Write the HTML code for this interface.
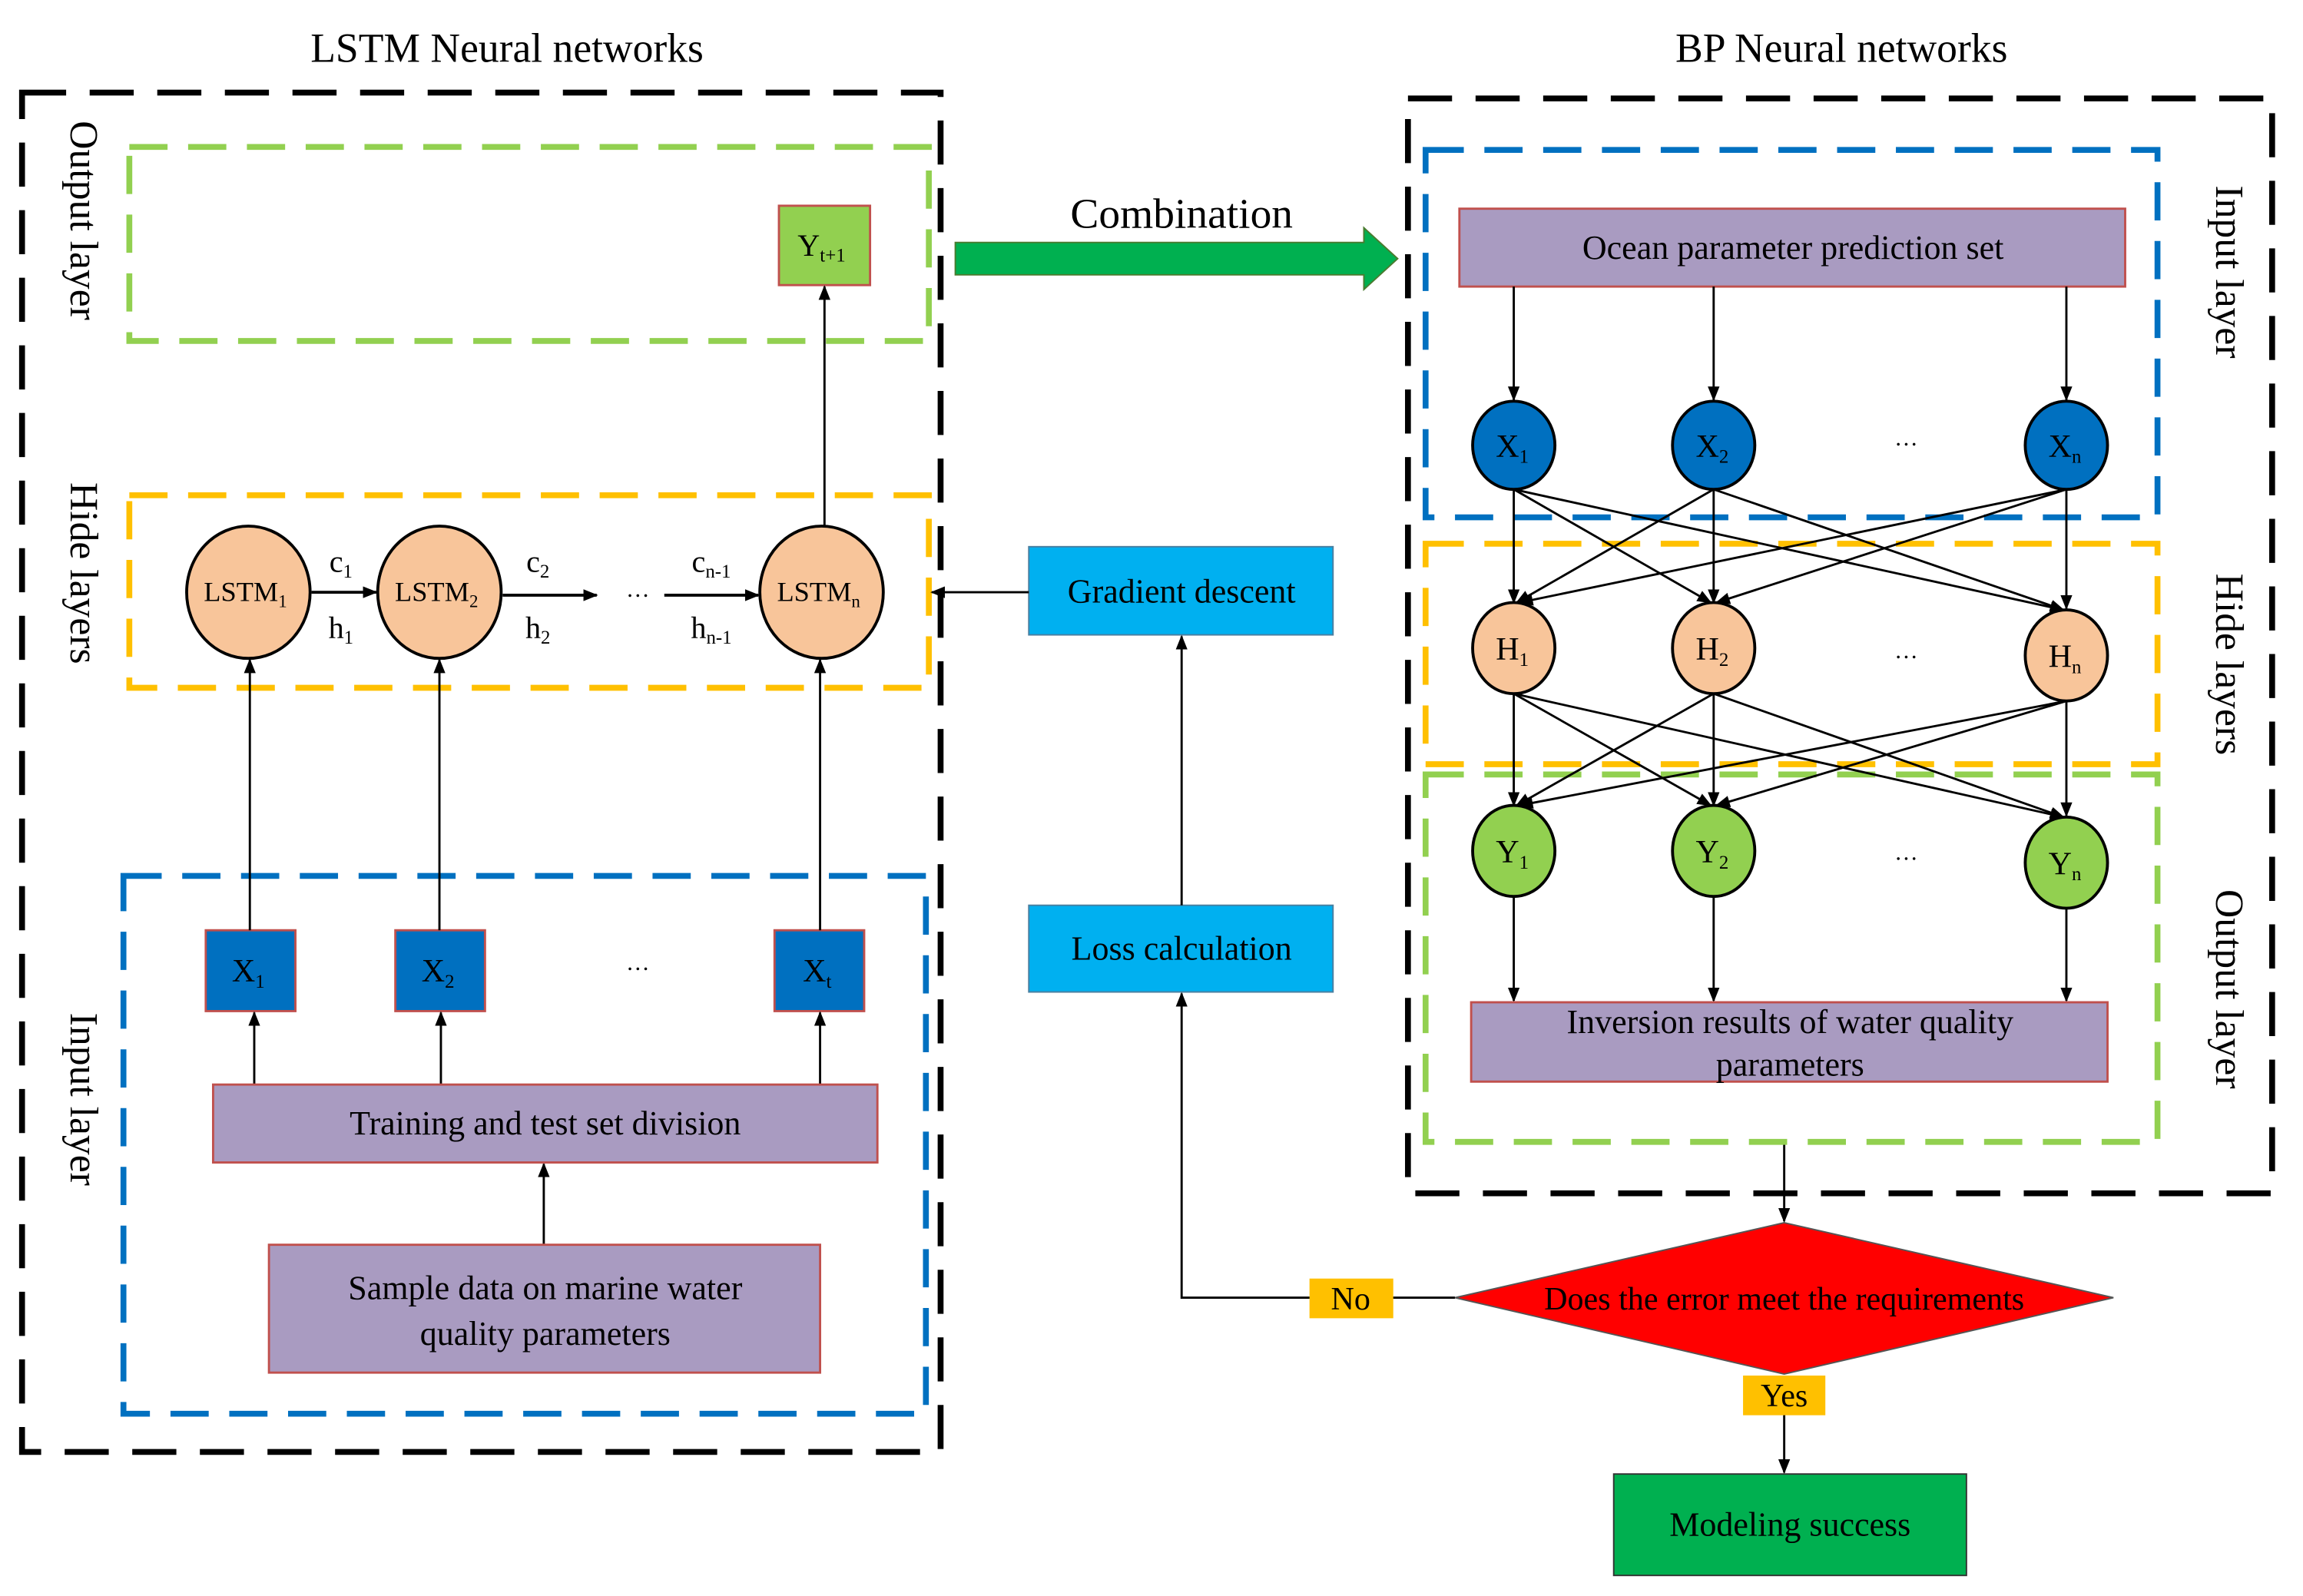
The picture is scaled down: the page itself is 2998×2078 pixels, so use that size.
<!DOCTYPE html>
<html><head><meta charset="utf-8"><style>
html,body{margin:0;padding:0;background:#fff;}
svg{display:block;}
text{font-family:"Liberation Serif",serif;fill:#000;}
</style></head><body>
<svg width="2998" height="2078" viewBox="0 0 1567 1086" preserveAspectRatio="none" xmlns="http://www.w3.org/2000/svg">
<defs>
<marker id="a" markerWidth="10" markerHeight="10" refX="9" refY="5" orient="auto" markerUnits="userSpaceOnUse" viewBox="0 0 10 10">
<path d="M0,1 L10,5 L0,9 z" fill="#000"/></marker>
</defs>
<rect width="1567" height="1086" fill="#fff"/>
<text x="345" y="42" font-size="28" text-anchor="middle">LSTM Neural networks</text>
<text x="1253" y="42" font-size="28" text-anchor="middle">BP Neural networks</text>

<rect x="15" y="63" width="625" height="925" fill="none" stroke="#000" stroke-width="4" stroke-dasharray="30 16"/>
<rect x="88" y="100" width="544" height="132" fill="none" stroke="#92d050" stroke-width="4" stroke-dasharray="26 14"/>
<rect x="88" y="337" width="544" height="131" fill="none" stroke="#ffc000" stroke-width="4" stroke-dasharray="26 14"/>
<rect x="84" y="596" width="546" height="366" fill="none" stroke="#0070c0" stroke-width="4" stroke-dasharray="26 14"/>
<text font-size="27" transform="translate(48,150) rotate(90)" text-anchor="middle">Output layer</text>
<text font-size="27" transform="translate(48,390) rotate(90)" text-anchor="middle">Hide layers</text>
<text font-size="27" transform="translate(48,748) rotate(90)" text-anchor="middle">Input layer</text>

<rect x="530" y="140" width="62" height="54" fill="#92d050" stroke="#c0504d" stroke-width="1.5"/>
<text x="559" y="174" font-size="21" text-anchor="middle">Y<tspan font-size="13" dy="4">t+1</tspan></text>
<line x1="561" y1="358" x2="561" y2="195" stroke="#000" stroke-width="1.5" marker-end="url(#a)"/>

<g stroke="#000" stroke-width="2" fill="#f8c59a">
<ellipse cx="169" cy="403" rx="42" ry="45"/>
<ellipse cx="299" cy="403" rx="42" ry="45"/>
<ellipse cx="559" cy="403" rx="42" ry="45"/>
</g>
<text x="167" y="409" font-size="19" text-anchor="middle">LSTM<tspan font-size="12" dy="4">1</tspan></text>
<text x="297" y="409" font-size="19" text-anchor="middle">LSTM<tspan font-size="12" dy="4">2</tspan></text>
<text x="557" y="409" font-size="19" text-anchor="middle">LSTM<tspan font-size="12" dy="4">n</tspan></text>
<g stroke="#000" stroke-width="2" marker-end="url(#a)">
<line x1="212" y1="403" x2="256" y2="403"/>
<line x1="342" y1="405" x2="406" y2="405"/>
<line x1="452" y1="405" x2="516" y2="405"/>
</g>
<text x="434" y="406" font-size="16" text-anchor="middle">…</text>
<g font-size="21" text-anchor="middle">
<text x="232" y="389">c<tspan font-size="13" dy="4">1</tspan></text>
<text x="232" y="434">h<tspan font-size="13" dy="4">1</tspan></text>
<text x="366" y="389">c<tspan font-size="13" dy="4">2</tspan></text>
<text x="366" y="434">h<tspan font-size="13" dy="4">2</tspan></text>
<text x="484" y="389">c<tspan font-size="13" dy="4">n-1</tspan></text>
<text x="484" y="434">h<tspan font-size="13" dy="4">n-1</tspan></text>
</g>

<g fill="#0070c0" stroke="#c0504d" stroke-width="1.5">
<rect x="140" y="633" width="61" height="55"/>
<rect x="269" y="633" width="61" height="55"/>
<rect x="527" y="633" width="61" height="55"/>
</g>
<g font-size="22" text-anchor="middle">
<text x="169" y="668">X<tspan font-size="13" dy="4">1</tspan></text>
<text x="298" y="668">X<tspan font-size="13" dy="4">2</tspan></text>
<text x="556" y="668">X<tspan font-size="13" dy="4">t</tspan></text>
</g>
<text x="434" y="660" font-size="16" text-anchor="middle">…</text>
<g stroke="#000" stroke-width="1.5" marker-end="url(#a)">
<line x1="170" y1="633" x2="170" y2="449"/>
<line x1="299" y1="633" x2="299" y2="449"/>
<line x1="558" y1="633" x2="558" y2="449"/>
<line x1="173" y1="738" x2="173" y2="689"/>
<line x1="300" y1="738" x2="300" y2="689"/>
<line x1="558" y1="738" x2="558" y2="689"/>
<line x1="370" y1="847" x2="370" y2="792"/>
</g>
<rect x="145" y="738" width="452" height="53" fill="#a99bc1" stroke="#c0504d" stroke-width="1.5"/>
<text x="371" y="772" font-size="23" text-anchor="middle">Training and test set division</text>
<rect x="183" y="847" width="375" height="87" fill="#a99bc1" stroke="#c0504d" stroke-width="1.5"/>
<text x="371" y="884" font-size="23" text-anchor="middle">Sample data on marine water</text>
<text x="371" y="915" font-size="23" text-anchor="middle">quality parameters</text>

<text x="804" y="155" font-size="29" text-anchor="middle">Combination</text>
<path d="M650,165 L928,165 L928,155 L951,176 L928,197 L928,187 L650,187 Z" fill="#00b050" stroke="#4a7b2f" stroke-width="1"/>
<rect x="700" y="372" width="207" height="60" fill="#00b0f0" stroke="#4a7fa0" stroke-width="1"/>
<text x="804" y="410" font-size="23" text-anchor="middle">Gradient descent</text>
<line x1="700" y1="403" x2="634" y2="403" stroke="#000" stroke-width="1.5" marker-end="url(#a)"/>
<rect x="700" y="616" width="207" height="59" fill="#00b0f0" stroke="#4a7fa0" stroke-width="1"/>
<text x="804" y="653" font-size="23" text-anchor="middle">Loss calculation</text>
<line x1="804" y1="616" x2="804" y2="433" stroke="#000" stroke-width="1.5" marker-end="url(#a)"/>
<polyline points="990,883 804,883 804,676" fill="none" stroke="#000" stroke-width="1.5" marker-end="url(#a)"/>
<rect x="891" y="870" width="57" height="27" fill="#ffc000"/>
<text x="919" y="891" font-size="22" text-anchor="middle">No</text>
<polygon points="990,883 1214,832 1438,883 1214,935" fill="#ff0000" stroke="#555" stroke-width="1"/>
<text x="1214" y="891" font-size="22" text-anchor="middle">Does the error meet the requirements</text>
<line x1="1214" y1="778" x2="1214" y2="831" stroke="#000" stroke-width="1.5" marker-end="url(#a)"/>
<rect x="1186" y="936" width="56" height="27" fill="#ffc000"/>
<text x="1214" y="957" font-size="22" text-anchor="middle">Yes</text>
<line x1="1214" y1="963" x2="1214" y2="1002" stroke="#000" stroke-width="1.5" marker-end="url(#a)"/>
<rect x="1098" y="1003" width="240" height="69" fill="#00b050" stroke="#333" stroke-width="1"/>
<text x="1218" y="1045" font-size="23" text-anchor="middle">Modeling success</text>

<rect x="958" y="67" width="588" height="745" fill="none" stroke="#000" stroke-width="4" stroke-dasharray="30 16"/>
<rect x="970" y="102" width="498" height="250" fill="none" stroke="#0070c0" stroke-width="4" stroke-dasharray="26 14"/>
<rect x="970" y="370" width="498" height="150" fill="none" stroke="#ffc000" stroke-width="4" stroke-dasharray="26 14"/>
<rect x="970" y="527" width="498" height="250" fill="none" stroke="#92d050" stroke-width="4" stroke-dasharray="26 14"/>
<text font-size="27" transform="translate(1508,185) rotate(90)" text-anchor="middle">Input layer</text>
<text font-size="27" transform="translate(1508,452) rotate(90)" text-anchor="middle">Hide layers</text>
<text font-size="27" transform="translate(1508,673) rotate(90)" text-anchor="middle">Output layer</text>

<rect x="993" y="142" width="453" height="53" fill="#a99bc1" stroke="#c0504d" stroke-width="1.5"/>
<text x="1220" y="176" font-size="23" text-anchor="middle">Ocean parameter prediction set</text>
<g stroke="#000" stroke-width="1.5" marker-end="url(#a)">
<line x1="1030" y1="195" x2="1030" y2="272"/>
<line x1="1166" y1="195" x2="1166" y2="272"/>
<line x1="1406" y1="195" x2="1406" y2="272"/>
<line x1="1030" y1="333" x2="1030" y2="410"/>
<line x1="1030" y1="333" x2="1164" y2="410"/>
<line x1="1030" y1="333" x2="1404" y2="415"/>
<line x1="1166" y1="333" x2="1032" y2="410"/>
<line x1="1166" y1="333" x2="1166" y2="410"/>
<line x1="1166" y1="333" x2="1404" y2="415"/>
<line x1="1406" y1="333" x2="1034" y2="410"/>
<line x1="1406" y1="333" x2="1168" y2="410"/>
<line x1="1406" y1="333" x2="1406" y2="414"/>
<line x1="1030" y1="472" x2="1030" y2="548"/>
<line x1="1030" y1="472" x2="1164" y2="548"/>
<line x1="1030" y1="472" x2="1404" y2="556"/>
<line x1="1166" y1="472" x2="1032" y2="548"/>
<line x1="1166" y1="472" x2="1166" y2="548"/>
<line x1="1166" y1="472" x2="1404" y2="556"/>
<line x1="1406" y1="477" x2="1034" y2="548"/>
<line x1="1406" y1="477" x2="1168" y2="548"/>
<line x1="1406" y1="477" x2="1406" y2="555"/>
<line x1="1030" y1="610" x2="1030" y2="681"/>
<line x1="1166" y1="610" x2="1166" y2="681"/>
<line x1="1406" y1="618" x2="1406" y2="681"/>
</g>
<g stroke="#000" stroke-width="2">
<ellipse cx="1030" cy="303" rx="28" ry="30" fill="#0070c0"/>
<ellipse cx="1166" cy="303" rx="28" ry="30" fill="#0070c0"/>
<ellipse cx="1406" cy="303" rx="28" ry="30" fill="#0070c0"/>
<ellipse cx="1030" cy="441" rx="28" ry="31" fill="#f8c59a"/>
<ellipse cx="1166" cy="441" rx="28" ry="31" fill="#f8c59a"/>
<ellipse cx="1406" cy="446" rx="28" ry="31" fill="#f8c59a"/>
<ellipse cx="1030" cy="579" rx="28" ry="31" fill="#92d050"/>
<ellipse cx="1166" cy="579" rx="28" ry="31" fill="#92d050"/>
<ellipse cx="1406" cy="587" rx="28" ry="31" fill="#92d050"/>
</g>
<g font-size="22" text-anchor="middle">
<text x="1029" y="311">X<tspan font-size="13" dy="4">1</tspan></text>
<text x="1165" y="311">X<tspan font-size="13" dy="4">2</tspan></text>
<text x="1405" y="311">X<tspan font-size="13" dy="4">n</tspan></text>
<text x="1029" y="449">H<tspan font-size="13" dy="4">1</tspan></text>
<text x="1165" y="449">H<tspan font-size="13" dy="4">2</tspan></text>
<text x="1405" y="454">H<tspan font-size="13" dy="4">n</tspan></text>
<text x="1029" y="587">Y<tspan font-size="13" dy="4">1</tspan></text>
<text x="1165" y="587">Y<tspan font-size="13" dy="4">2</tspan></text>
<text x="1405" y="595">Y<tspan font-size="13" dy="4">n</tspan></text>
</g>
<g font-size="16" text-anchor="middle">
<text x="1297" y="303">…</text>
<text x="1297" y="448">…</text>
<text x="1297" y="585">…</text>
</g>
<rect x="1001" y="682" width="433" height="54" fill="#a99bc1" stroke="#c0504d" stroke-width="1.5"/>
<text x="1218" y="703" font-size="23" text-anchor="middle">Inversion results of water quality</text>
<text x="1218" y="732" font-size="23" text-anchor="middle">parameters</text>
</svg>
</body></html>
